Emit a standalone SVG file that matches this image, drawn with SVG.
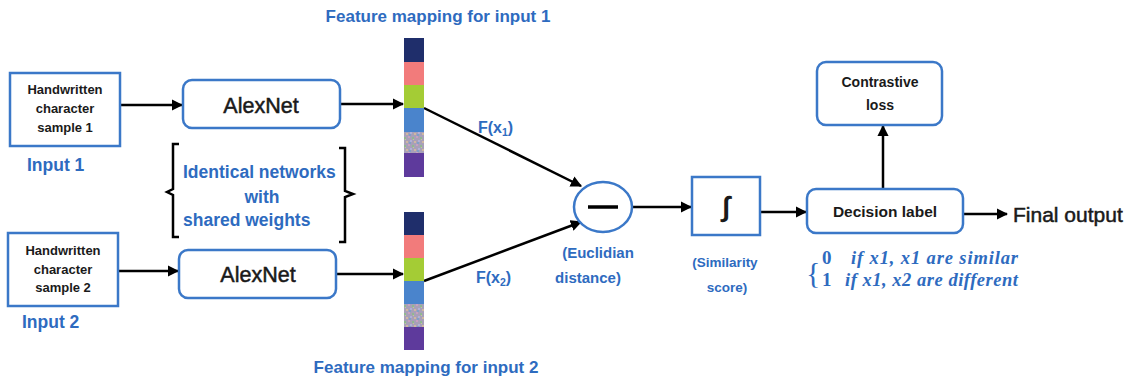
<svg xmlns="http://www.w3.org/2000/svg" width="1129" height="379" viewBox="0 0 1129 379">
<style>
.box{fill:#fff;stroke:#3b78c8;stroke-width:2.5}
.ln{stroke:#000;stroke-width:2.5;fill:none}
.br{stroke:#000;stroke-width:2.5;fill:none}
.t{font-family:"Liberation Sans",Arial,sans-serif;text-anchor:middle;fill:#1a1a1a;stroke:#1a1a1a;stroke-width:0.5}
.tb{font-family:"Liberation Sans",Arial,sans-serif;font-weight:bold;text-anchor:middle;fill:#1a1a1a}
.bl{font-family:"Liberation Sans",Arial,sans-serif;font-weight:bold;fill:#2e6bbf}
.math{font-family:"Liberation Serif","Times New Roman",serif;font-weight:bold;font-style:italic;fill:#2e6bbf;font-size:18.5px}
.dig{font-family:"Liberation Serif","Times New Roman",serif;font-weight:bold;fill:#2e6bbf;font-size:19px}
</style>
<defs>
<marker id="ah" viewBox="0 0 10 10" refX="9" refY="5" markerWidth="4.5" markerHeight="4.5" orient="auto" markerUnits="strokeWidth">
<path d="M0,0 L10,5 L0,10 z" fill="#000"/>
</marker>
<pattern id="noise" width="8" height="8" patternUnits="userSpaceOnUse">
<rect width="8" height="8" fill="#a8a0b8"/>
<rect x="0" y="0" width="2" height="2" fill="#c8a0c0"/>
<rect x="4" y="1" width="2" height="2" fill="#90b890"/>
<rect x="2" y="4" width="2" height="2" fill="#b0b0d8"/>
<rect x="6" y="5" width="2" height="2" fill="#d0b8a0"/>
<rect x="1" y="6" width="2" height="2" fill="#80a0c8"/>
<rect x="5" y="3" width="1" height="1" fill="#c0d090"/>
</pattern>
</defs>

<g id="connectors">
<line class="ln" x1="120" y1="105" x2="182" y2="105" marker-end="url(#ah)"/>
<line class="ln" x1="118" y1="271" x2="178" y2="271" marker-end="url(#ah)"/>
<line class="ln" x1="340" y1="104" x2="403" y2="104" marker-end="url(#ah)"/>
<line class="ln" x1="336" y1="274" x2="403" y2="274" marker-end="url(#ah)"/>
<line class="ln" x1="424" y1="108" x2="581" y2="186" marker-end="url(#ah)"/>
<line class="ln" x1="424" y1="281" x2="581" y2="222" marker-end="url(#ah)"/>
<line class="ln" x1="632" y1="207" x2="691" y2="207" marker-end="url(#ah)"/>
<line class="ln" x1="761" y1="212" x2="806" y2="212" marker-end="url(#ah)"/>
<line class="ln" x1="883" y1="189" x2="883" y2="126" marker-end="url(#ah)"/>
<line class="ln" x1="963" y1="214" x2="1007" y2="214" marker-end="url(#ah)"/>
</g>

<g id="input1">
<rect class="box" x="10" y="73" width="110" height="73"/>
<text class="tb" font-size="13" x="65" y="94">Handwritten</text>
<text class="tb" font-size="13" x="65" y="113">character</text>
<text class="tb" font-size="13" x="65" y="132">sample 1</text>
<text class="bl" font-size="17.5" x="27" y="171">Input 1</text>
</g>

<g id="input2">
<rect class="box" x="8" y="233" width="110" height="73"/>
<text class="tb" font-size="13" x="63" y="255">Handwritten</text>
<text class="tb" font-size="13" x="63" y="274">character</text>
<text class="tb" font-size="13" x="63" y="292">sample 2</text>
<text class="bl" font-size="17.5" x="22" y="328">Input 2</text>
</g>

<g id="alexnet1">
<rect class="box" x="183" y="80" width="157" height="48" rx="9"/>
<text class="t" font-size="21.5" x="261" y="113">AlexNet</text>
</g>

<g id="alexnet2">
<rect class="box" x="179" y="250" width="157" height="48" rx="9"/>
<text class="t" font-size="21.5" x="258" y="282">AlexNet</text>
</g>

<g id="shared">
<path class="br" d="M179,144 H173 V189 L167,192 L173,195 V237 H179"/>
<path class="br" d="M339,148 H345 V191 L353,194 L345,197 V242 H339"/>
<text class="bl" font-size="17.5" x="183" y="178">Identical networks</text>
<text class="bl" font-size="17.5" x="262" y="203" text-anchor="middle">with</text>
<text class="bl" font-size="17.5" x="183" y="226">shared weights</text>
</g>

<g id="feature1">
<text class="bl" font-size="17" x="438" y="22" text-anchor="middle">Feature mapping for input 1</text>
<rect x="404" y="38" width="20" height="24" fill="#1f2e6b"/>
<rect x="404" y="62" width="20" height="23" fill="#f27b7b"/>
<rect x="404" y="85" width="20" height="23" fill="#a4cc35"/>
<rect x="404" y="108" width="20" height="24" fill="#4a84cc"/>
<rect x="404" y="132" width="20" height="21" fill="url(#noise)"/>
<rect x="404" y="153" width="20" height="24" fill="#5e3a9c"/>
</g>

<g id="feature2">
<rect x="404" y="212" width="20" height="23" fill="#1f2e6b"/>
<rect x="404" y="235" width="20" height="23" fill="#f27b7b"/>
<rect x="404" y="258" width="20" height="23" fill="#a4cc35"/>
<rect x="404" y="281" width="20" height="23" fill="#4a84cc"/>
<rect x="404" y="304" width="20" height="23" fill="url(#noise)"/>
<rect x="404" y="327" width="20" height="23" fill="#5e3a9c"/>
<text class="bl" font-size="17" x="426" y="373" text-anchor="middle">Feature mapping for input 2</text>
</g>

<g id="labels-f">
<text class="bl" font-size="16" font-weight="normal" x="478" y="133">F(x<tspan font-size="10.5" dy="3">1</tspan><tspan dy="-3">)</tspan></text>
<text class="bl" font-size="16" font-weight="normal" x="476" y="283">F(x<tspan font-size="10.5" dy="3">2</tspan><tspan dy="-3">)</tspan></text>
</g>

<g id="distance">
<ellipse class="box" cx="603" cy="207" rx="29" ry="25"/>
<line x1="588" y1="207" x2="618" y2="207" stroke="#000" stroke-width="3.5"/>
<text class="bl" font-size="15" x="598" y="258" text-anchor="middle">(Euclidian</text>
<text class="bl" font-size="15" x="588" y="283" text-anchor="middle">distance)</text>
</g>

<g id="similarity">
<rect class="box" x="692" y="177" width="68" height="58"/>
<text class="tb" font-size="28" x="726" y="216" font-family="Liberation Serif,serif">∫</text>
<text class="bl" font-size="13.5" x="725" y="267" text-anchor="middle">(Similarity</text>
<text class="bl" font-size="13.5" x="727" y="292" text-anchor="middle">score)</text>
</g>

<g id="decision">
<rect class="box" x="807" y="189" width="156" height="44" rx="9"/>
<text class="tb" font-size="15.5" x="885" y="217">Decision label</text>
<text font-family="Liberation Serif,serif" font-size="30" fill="#2e6bbf" x="806" y="283">{</text>
<text class="dig" x="822" y="264">0</text>
<text class="math" x="851" y="264" textLength="167" lengthAdjust="spacing">if  x1, x1 are similar</text>
<text class="dig" x="822" y="286">1</text>
<text class="math" x="845" y="286" textLength="173" lengthAdjust="spacing">if x1, x2 are different</text>
</g>

<g id="contrastive">
<rect class="box" x="817" y="62" width="125" height="63" rx="9"/>
<text class="tb" font-size="14" x="880" y="87">Contrastive</text>
<text class="tb" font-size="14" x="880" y="110">loss</text>
</g>

<g id="final">
<text font-family="Liberation Sans,Arial,sans-serif" font-size="21" fill="#1a1a1a" stroke="#1a1a1a" stroke-width="0.5" x="1013" y="222">Final output</text>
</g>
</svg>
